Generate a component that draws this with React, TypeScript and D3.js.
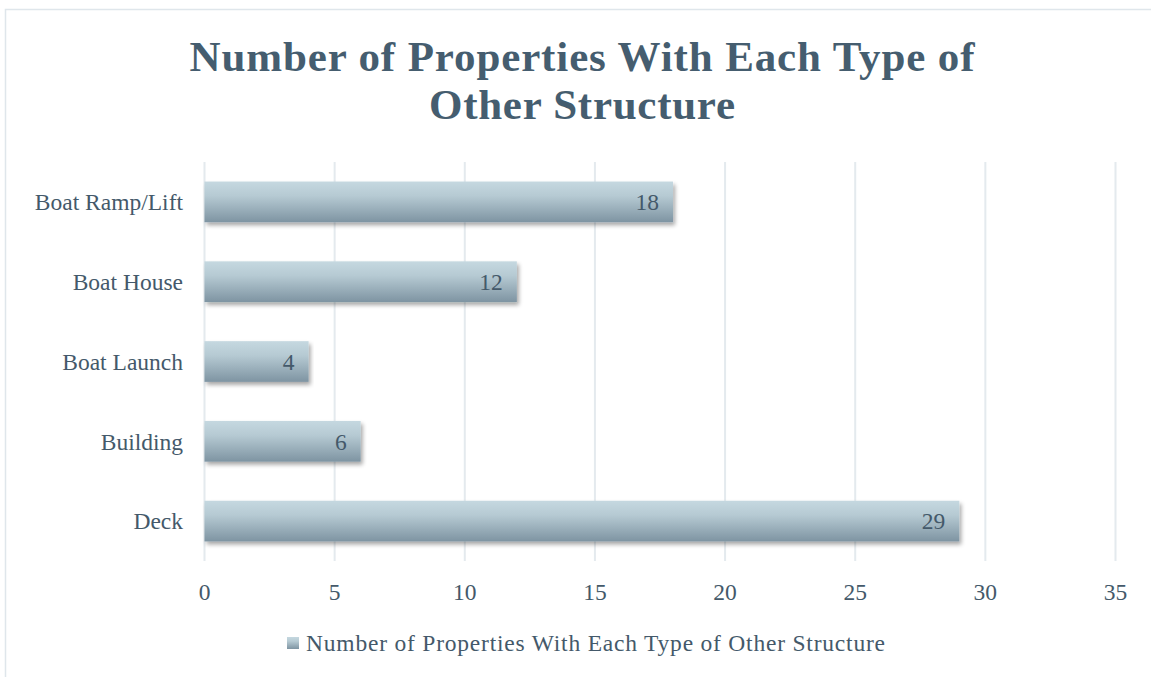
import React from "react";
import * as d3 from "d3";

const categories = ["Boat Ramp/Lift", "Boat House", "Boat Launch", "Building", "Deck"];
const values = [18, 12, 4, 6, 29];
const xTicks = [0, 5, 10, 15, 20, 25, 30, 35];
const titleLines = ["Number of Properties With Each Type of", "Other Structure"];
const legendLabel = "Number of Properties With Each Type of Other Structure";

const W = 1151;
const H = 677;
const FONT = "'Liberation Serif', 'DejaVu Serif', serif";
const TEXT = "#44596a";
const LABEL_SIZE = 23.5;

export default function App() {
  const x = d3.scaleLinear().domain([0, 35]).range([204.5, 1115.5]);
  const y = d3.scaleBand().domain(categories).range([162, 561]).paddingInner(0.49).paddingOuter(0.245);
  const data = categories.map((c, i) => ({ c, v: values[i] }));
  const titleWidths = [785, 306];

  return (
    <svg width={W} height={H} style={{ position: "absolute", left: 0, top: 0, background: "#fff" }}>
      <defs>
        <linearGradient id="barGrad" x1="0" y1="0" x2="0" y2="1">
          <stop offset="0%" stopColor="#c5d8e0" />
          <stop offset="35%" stopColor="#b6cad3" />
          <stop offset="100%" stopColor="#7e94a2" />
        </linearGradient>
        <filter id="shadow" x="-5%" y="-30%" width="110%" height="180%">
          <feGaussianBlur in="SourceAlpha" stdDeviation="2" />
          <feOffset dx="2" dy="3" result="ob" />
          <feComponentTransfer>
            <feFuncA type="linear" slope="0.35" />
          </feComponentTransfer>
          <feMerge>
            <feMergeNode />
            <feMergeNode in="SourceGraphic" />
          </feMerge>
        </filter>
      </defs>
      <rect x={5.5} y={9.5} width={W + 10} height={H + 10} fill="none" stroke="#dfe6eb" strokeWidth={1.5} />
      {titleLines.map((t, i) => (
        <text
          key={t}
          x={582}
          y={71 + i * 48}
          textAnchor="middle"
          fontFamily={FONT}
          fontWeight="bold"
          fontSize={43}
          fill="#455d6f"
          textLength={titleWidths[i]}
          lengthAdjust="spacing"
        >
          {t}
        </text>
      ))}
      {xTicks.map((t) => (
        <g key={t}>
          <line x1={x(t)} x2={x(t)} y1={162} y2={561} stroke="#e4eaee" strokeWidth={2} />
          <text x={x(t)} y={592} dy="0.35em" textAnchor="middle" fontFamily={FONT} fontSize={LABEL_SIZE} fill={TEXT}>
            {t}
          </text>
        </g>
      ))}
      {data.map((d) => (
        <g key={d.c}>
          <text x={183} y={y(d.c)! + y.bandwidth() / 2} dy="0.35em" textAnchor="end" fontFamily={FONT} fontSize={LABEL_SIZE} fill={TEXT}>
            {d.c}
          </text>
          <rect x={x(0)} y={y(d.c)!} width={x(d.v) - x(0)} height={y.bandwidth()} fill="url(#barGrad)" filter="url(#shadow)" />
          <text x={x(d.v) - 14} y={y(d.c)! + y.bandwidth() / 2} dy="0.35em" textAnchor="end" fontFamily={FONT} fontSize={LABEL_SIZE} fill={TEXT}>
            {d.v}
          </text>
        </g>
      ))}
      <rect x={287} y={637} width={12} height={12} fill="url(#barGrad)" />
      <text x={306} y={643} dy="0.35em" fontFamily={FONT} fontSize={LABEL_SIZE} fill={TEXT} textLength={579} lengthAdjust="spacing">
        {legendLabel}
      </text>
    </svg>
  );
}
